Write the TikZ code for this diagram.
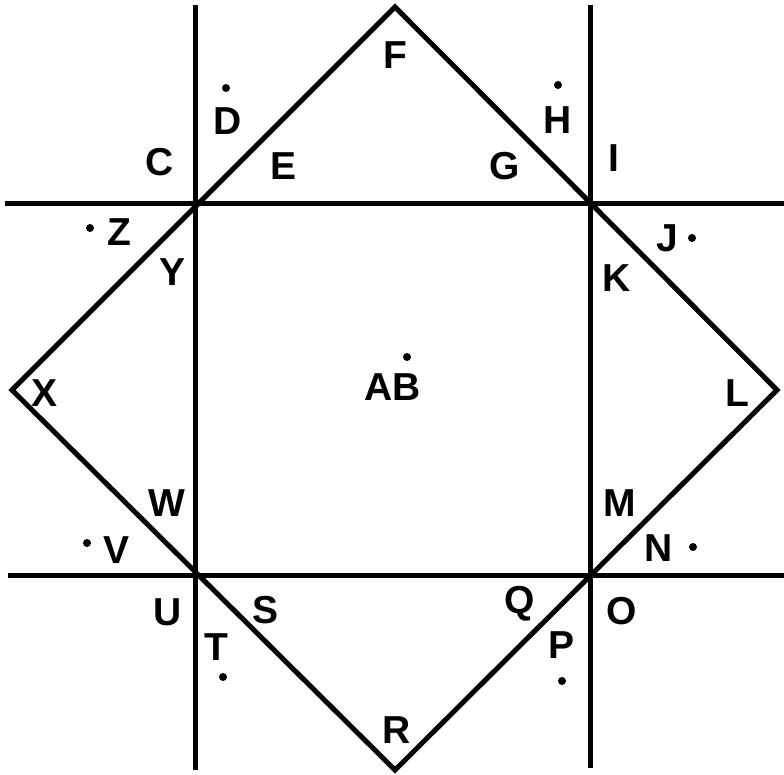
\documentclass[tikz,border=0pt]{standalone}
\usepackage{fontspec}
\setmainfont{Liberation Sans}
\begin{document}
\begin{tikzpicture}[x=1pt,y=-1pt,
  ln/.style={line width=5pt},
  lbl/.style={inner sep=0pt,font=\fontsize{39}{41}\selectfont\bfseries},
  pt/.style={circle,fill=black,inner sep=0pt,minimum size=8pt}]
\useasboundingbox (0,0) rectangle (784,774);
% line ends
\coordinate (v1t) at (195,5);   \coordinate (v1b) at (195,770);
\coordinate (v2t) at (590,5);   \coordinate (v2b) at (590,768);
\coordinate (h1l) at (5,203);   \coordinate (h1r) at (784,203);
\coordinate (h2l) at (8,575);   \coordinate (h2r) at (784,575);
\coordinate (pF) at (395,7);
\coordinate (pL) at (777,390);
\coordinate (pR) at (395,770);
\coordinate (pX) at (12,390);
\draw[ln] (v1t) -- (v1b);
\draw[ln] (v2t) -- (v2b);
\draw[ln] (h1l) -- (h1r);
\draw[ln] (h2l) -- (h2r);
\draw[ln,line join=miter] (pF) -- (pL) -- (pR) -- (pX) -- cycle;
% labels
\node[lbl] (F) at (395,55) {F};
\node[lbl] (D) at (228,121) {D};
\node[pt] (dD) at (226,88) {};
\node[lbl] (C) at (160,162) {C};
\node[lbl] (E) at (284,166) {E};
\node[lbl] (G) at (505,166) {G};
\node[lbl] (H) at (558,120) {H};
\node[pt] (dH) at (558,85) {};
\node[lbl] (I) at (614,158) {I};
\node[lbl] (J) at (667,238) {J};
\node[pt] (dJ) at (692,238) {};
\node[lbl] (K) at (617,278) {K};
\node[lbl] (Z) at (119,232) {Z};
\node[pt] (dZ) at (90,228) {};
\node[lbl] (Y) at (173,272) {Y};
\node[lbl] (X) at (45,393) {X};
\node[lbl] (AB) at (393,387) {AB};
\node[pt] (dAB) at (407,357) {};
\node[lbl] (L) at (737,393) {L};
\node[lbl] (W) at (167,503) {W};
\node[lbl] (M) at (620,503) {M};
\node[lbl] (V) at (117,550) {V};
\node[pt] (dV) at (87,543) {};
\node[lbl] (N) at (659,548) {N};
\node[pt] (dN) at (693,547) {};
\node[lbl] (U) at (168,612) {U};
\node[lbl] (S) at (266,610) {S};
\node[lbl] (Q) at (520,604) {Q};
\node[lbl] (O) at (622,611) {O};
\node[lbl] (T) at (216,647) {T};
\node[pt] (dT) at (223,677) {};
\node[lbl] (P) at (561,645) {P};
\node[pt] (dP) at (562,681) {};
\node[lbl] (R) at (397,730) {R};
\end{tikzpicture}
\end{document}
